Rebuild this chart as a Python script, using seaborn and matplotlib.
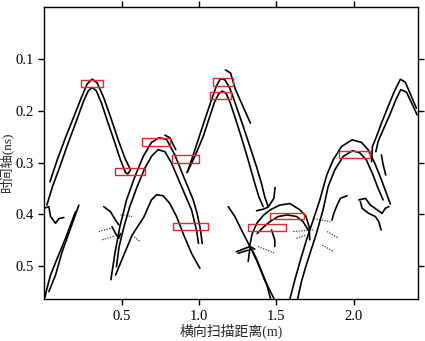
import matplotlib
matplotlib.use('Agg')
import matplotlib.pyplot as plt
from matplotlib.patches import Rectangle
import seaborn as sns
import pandas as pd

# picked edges: (distance m, time ns)
a_out = [(0.037, 0.337), (0.084, 0.295), (0.140, 0.250), (0.192, 0.211), (0.241, 0.174), (0.278, 0.148),
         (0.310, 0.139), (0.342, 0.146), (0.385, 0.175), (0.431, 0.214), (0.478, 0.256), (0.521, 0.291),
         (0.558, 0.314), (0.540, 0.322), (0.525, 0.319)]
a_in = [(0.017, 0.382), (0.054, 0.346), (0.101, 0.308), (0.155, 0.262), (0.209, 0.219), (0.256, 0.180),
        (0.286, 0.161), (0.310, 0.155), (0.336, 0.161), (0.370, 0.185), (0.413, 0.224), (0.457, 0.262),
        (0.493, 0.295), (0.525, 0.319)]
b_out = [(0.431, 0.526), (0.457, 0.475), (0.489, 0.424), (0.532, 0.372), (0.586, 0.327), (0.640, 0.288),
         (0.693, 0.261), (0.743, 0.252), (0.790, 0.255), (0.844, 0.285), (0.909, 0.333), (0.963, 0.372),
         (0.988, 0.398), (1.010, 0.430), (1.021, 0.456)]
b_in = [(0.467, 0.501), (0.484, 0.462), (0.515, 0.424), (0.553, 0.385), (0.601, 0.346), (0.650, 0.311),
        (0.693, 0.288), (0.736, 0.275), (0.780, 0.279), (0.823, 0.301), (0.887, 0.346), (0.952, 0.391),
        (0.984, 0.430), (0.997, 0.456)]
b_tail = [(0.780, 0.247), (0.812, 0.252), (0.850, 0.275)]
d_low = [(0.461, 0.517), (0.515, 0.478), (0.568, 0.440), (0.644, 0.405), (0.693, 0.372), (0.726, 0.362),
         (0.769, 0.364), (0.812, 0.379), (0.855, 0.404), (0.898, 0.437), (0.952, 0.475), (1.006, 0.504)]
c_out = [(0.924, 0.319), (0.952, 0.295), (0.995, 0.256), (1.038, 0.217), (1.081, 0.179), (1.113, 0.152),
         (1.139, 0.138), (1.167, 0.140), (1.199, 0.156), (1.242, 0.192), (1.286, 0.230), (1.329, 0.269),
         (1.372, 0.308), (1.404, 0.340), (1.425, 0.366), (1.447, 0.385)]
c_in = [(0.924, 0.319), (0.973, 0.288), (1.027, 0.250), (1.070, 0.211), (1.102, 0.182), (1.128, 0.167),
        (1.150, 0.162), (1.174, 0.166), (1.199, 0.182), (1.238, 0.217), (1.279, 0.256), (1.318, 0.295),
        (1.354, 0.333), (1.387, 0.366), (1.415, 0.385)]
c_tail = [(1.171, 0.121), (1.204, 0.127), (1.236, 0.159), (1.333, 0.224)]
c_hook = [(1.492, 0.348), (1.484, 0.369), (1.447, 0.386), (1.415, 0.390), (1.372, 0.393)]
e_out = [(1.329, 0.459), (1.344, 0.437), (1.376, 0.416), (1.419, 0.401), (1.462, 0.391), (1.522, 0.382),
         (1.587, 0.379), (1.652, 0.391), (1.690, 0.403), (1.712, 0.424), (1.716, 0.449)]
e_in = [(1.376, 0.437), (1.415, 0.425), (1.458, 0.414), (1.512, 0.404), (1.570, 0.401), (1.630, 0.404),
        (1.673, 0.414), (1.705, 0.430)]
l1 = [(1.189, 0.385), (1.232, 0.404), (1.275, 0.430), (1.329, 0.462), (1.372, 0.488), (1.425, 0.527),
      (1.484, 0.562)]
l2 = [(1.346, 0.469), (1.393, 0.501), (1.436, 0.533), (1.462, 0.562)]
g_out = [(1.587, 0.564), (1.619, 0.527), (1.656, 0.488), (1.695, 0.449), (1.738, 0.411), (1.781, 0.372),
         (1.826, 0.324), (1.867, 0.295), (1.921, 0.269), (1.990, 0.256), (2.050, 0.261), (2.093, 0.275),
         (2.136, 0.301), (2.179, 0.333), (2.211, 0.359), (2.237, 0.380)]
g_in = [(1.637, 0.564), (1.662, 0.530), (1.690, 0.501), (1.721, 0.472), (1.759, 0.437), (1.802, 0.391),
        (1.835, 0.346), (1.878, 0.314), (1.932, 0.288), (1.992, 0.277), (2.039, 0.281), (2.082, 0.295),
        (2.121, 0.321), (2.158, 0.350), (2.190, 0.372)]
h_out = [(2.115, 0.298), (2.121, 0.269), (2.147, 0.250), (2.179, 0.224), (2.222, 0.192), (2.265, 0.161),
         (2.302, 0.139), (2.334, 0.145), (2.368, 0.169), (2.405, 0.195)]
h_in = [(2.143, 0.279), (2.158, 0.259), (2.190, 0.237), (2.233, 0.208), (2.272, 0.179), (2.304, 0.159),
        (2.341, 0.164), (2.379, 0.188), (2.410, 0.208)]
h_bit = [(2.179, 0.285), (2.190, 0.304), (2.207, 0.324)]
r_bump1 = [(2.033, 0.372), (2.076, 0.369), (2.108, 0.382), (2.151, 0.391), (2.183, 0.398), (2.205, 0.388),
           (2.227, 0.385)]
r_bump2 = [(2.043, 0.375), (2.054, 0.388), (2.097, 0.398), (2.140, 0.404), (2.162, 0.414), (2.177, 0.430)]
r_line = [(1.957, 0.364), (1.914, 0.369), (1.893, 0.382), (1.871, 0.398), (1.860, 0.411)]
left_1 = [(0.224, 0.382), (0.170, 0.427), (0.116, 0.472), (0.073, 0.517), (0.030, 0.549)]
left_2 = [(0.202, 0.395), (0.138, 0.446), (0.084, 0.485), (0.041, 0.517), (0.015, 0.546), (0.005, 0.560)]
left_wig = [(0.000, 0.388), (0.030, 0.385), (0.041, 0.404), (0.073, 0.417), (0.095, 0.408), (0.127, 0.406)]
x1_a = [(0.385, 0.385), (0.429, 0.395), (0.461, 0.411), (0.482, 0.420)]
x1_b = [(0.439, 0.424), (0.461, 0.437), (0.482, 0.446), (0.493, 0.437)]
x2_a = [(1.242, 0.472), (1.329, 0.462), (1.361, 0.467)]
x2_b = [(1.253, 0.475), (1.318, 0.469)]
x2_c = [(1.329, 0.466), (1.318, 0.491)]
x2_d = [(1.469, 0.430), (1.490, 0.449), (1.490, 0.462)]

# diffraction tails (dotted)
dot_1 = [(0.353, 0.433), (0.439, 0.426)]
dot_2 = [(0.375, 0.449), (0.450, 0.442)]
dot_3 = [(0.493, 0.401), (0.568, 0.404)]
dot_4 = [(0.568, 0.440), (0.622, 0.453)]
dot_5 = [(1.382, 0.462), (1.490, 0.475)]
dot_6 = [(1.742, 0.408), (1.850, 0.414)]
dot_7 = [(1.828, 0.433), (1.904, 0.446)]
dot_8 = [(1.796, 0.459), (1.871, 0.472)]
dot_9 = [(1.609, 0.433), (1.738, 0.430)]
dot_10 = [(1.630, 0.446), (1.695, 0.440)]

# picked apex windows
box_x0 = [0.235, 0.457, 0.635, 0.829, 0.831, 1.092, 1.070, 1.458, 1.318, 1.904]
box_x1 = [0.381, 0.650, 0.814, 0.999, 1.059, 1.217, 1.210, 1.677, 1.561, 2.104]
box_t0 = [0.140, 0.310, 0.253, 0.286, 0.417, 0.137, 0.163, 0.397, 0.419, 0.277]
box_t1 = [0.154, 0.324, 0.267, 0.301, 0.431, 0.152, 0.177, 0.408, 0.432, 0.291]

solid = [a_out, a_in, b_out, b_in, b_tail, d_low, c_out, c_in, c_tail, c_hook, e_out, e_in, l1, l2,
         g_out, g_in, h_out, h_in, h_bit, r_bump1, r_bump2, r_line, left_1, left_2, left_wig,
         x1_a, x1_b, x2_a, x2_b, x2_c, x2_d]
dotted = [dot_1, dot_2, dot_3, dot_4, dot_5, dot_6, dot_7, dot_8, dot_9, dot_10]


def to_frame(edges):
    rows = []
    for i, edge in enumerate(edges):
        for x, t in edge:
            rows.append({'edge': i, 'x': x, 't': t})
    return pd.DataFrame(rows)


sns.set_style('ticks')
plt.rcParams['font.family'] = ['Liberation Serif', 'Noto Sans CJK SC']

fig = plt.figure(figsize=(4.25, 3.41), dpi=100)
ax = fig.add_axes([0.104, 0.122, 0.879, 0.857])

sns.lineplot(data=to_frame(solid), x='x', y='t', units='edge', estimator=None, sort=False,
             color='black', lw=1.2, legend=False, ax=ax)
sns.lineplot(data=to_frame(dotted), x='x', y='t', units='edge', estimator=None, sort=False,
             color='#333333', lw=0.8, linestyle=(0, (1.2, 1.2)), legend=False, ax=ax)

for x0, x1, t0, t1 in zip(box_x0, box_x1, box_t0, box_t1):
    ax.add_patch(Rectangle((x0, t0), x1 - x0, t1 - t0, fill=False, ec='#e0282d', lw=1.0, zorder=3))

ax.set_xlim(0, 2.414)
ax.set_ylim(0.564, 0.0)
ax.set_xticks([0.5, 1.0, 1.5, 2.0])
ax.set_yticks([0.1, 0.2, 0.3, 0.4, 0.5])
ax.tick_params(direction='out', top=True, right=True, length=4, width=1, labelsize=10.5, colors='black')
for s in ax.spines.values():
    s.set_linewidth(1.0)
    s.set_color('black')

ax.set_xlabel('横向扫描距离(m)', fontsize=10, labelpad=1)
ax.set_ylabel('时间轴(ns)', fontsize=9.5)
ax.yaxis.set_label_coords(-0.081, 0.47)

fig.savefig('out.png', dpi=100)
